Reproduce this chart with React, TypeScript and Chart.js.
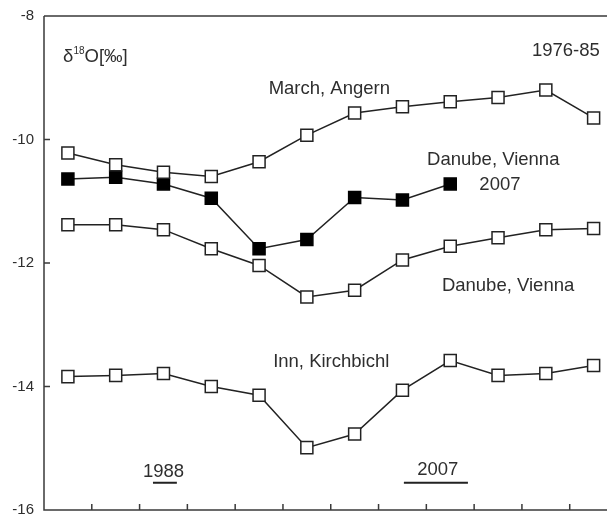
import React, { useEffect, useRef } from 'react';
import { Chart, registerables } from 'chart.js';

Chart.register(...registerables);

const MONTHS = ['Jan', 'Feb', 'Mar', 'Apr', 'May', 'Jun', 'Jul', 'Aug', 'Sep', 'Oct', 'Nov', 'Dec'];
const MARCH_ANGERN = [-10.22, -10.41, -10.53, -10.6, -10.36, -9.93, -9.57, -9.47, -9.39, -9.32, -9.2, -9.65];
const DANUBE_2007 = [-10.64, -10.61, -10.72, -10.95, -11.77, -11.62, -10.94, -10.98, -10.72];
const DANUBE_1976_85 = [-11.38, -11.38, -11.46, -11.77, -12.04, -12.55, -12.44, -11.95, -11.73, -11.59, -11.46, -11.44];
const INN_KIRCHBICHL = [-13.84, -13.82, -13.79, -14.0, -14.14, -14.99, -14.77, -14.06, -13.58, -13.82, -13.79, -13.66];
const Y_TICKS = [-16, -14, -12, -10, -8];
const Y_TICK_LABELS = ['-16', '-14', '-12', '-10', '-8'];

// text annotations in data coordinates
const LABELS = [
  { text: '1976-85', x: 12.13, y: -8.65, align: 'right' },
  { text: 'March, Angern', x: 6.47, y: -9.26, align: 'center' },
  { text: 'Danube, Vienna', x: 9.9, y: -10.41, align: 'center' },
  { text: '2007', x: 10.04, y: -10.81, align: 'center' },
  { text: 'Danube, Vienna', x: 10.21, y: -12.46, align: 'center' },
  { text: 'Inn, Kirchbichl', x: 6.51, y: -13.68, align: 'center' },
  { text: '1988', x: 3.0, y: -15.46, align: 'center' },
  { text: '2007', x: 8.74, y: -15.44, align: 'center' },
];
const PERIOD_BARS = [
  { from: 2.78, to: 3.28, y: -15.56 },
  { from: 8.03, to: 9.37, y: -15.56 },
];

const FONT = '"Liberation Sans", Arial, Helvetica, sans-serif';
const AXIS = '#3a3a3a';
const LINE = '#222222';
const TEXT = '#2e2e2e';

const toPoints = (arr: number[]) => arr.map((v, i) => ({ x: i + 1, y: v }));

const decor = {
  id: 'decor',
  afterDraw(chart: any) {
    const { ctx, chartArea, scales } = chart;
    const { left, right, top, bottom } = chartArea;
    const x = scales.x;
    const y = scales.y;
    ctx.save();
    ctx.strokeStyle = AXIS;
    ctx.lineWidth = 1.5;
    ctx.beginPath();
    ctx.moveTo(left, top);
    ctx.lineTo(right + 2, top);
    ctx.moveTo(left, top);
    ctx.lineTo(left, bottom);
    ctx.lineTo(right + 2, bottom);
    Y_TICKS.forEach((v) => {
      const py = y.getPixelForValue(v);
      ctx.moveTo(left, py);
      ctx.lineTo(left + 6, py);
    });
    for (let i = 1; i <= MONTHS.length; i++) {
      const px = x.getPixelForValue(i + 0.5);
      if (px > right) continue;
      ctx.moveTo(px, bottom);
      ctx.lineTo(px, bottom - 6);
    }
    ctx.stroke();

    ctx.fillStyle = TEXT;
    // y tick labels
    ctx.font = `15px ${FONT}`;
    ctx.textAlign = 'right';
    ctx.textBaseline = 'middle';
    Y_TICKS.forEach((v, i) => {
      ctx.fillText(Y_TICK_LABELS[i], left - 10, y.getPixelForValue(v));
    });

    ctx.textBaseline = 'alphabetic';
    ctx.font = `18.5px ${FONT}`;
    LABELS.forEach((l) => {
      ctx.textAlign = l.align;
      ctx.fillText(l.text, x.getPixelForValue(l.x), y.getPixelForValue(l.y));
    });
    ctx.strokeStyle = LINE;
    ctx.lineWidth = 2;
    ctx.beginPath();
    PERIOD_BARS.forEach((b) => {
      const py = y.getPixelForValue(b.y);
      ctx.moveTo(x.getPixelForValue(b.from), py);
      ctx.lineTo(x.getPixelForValue(b.to), py);
    });
    ctx.stroke();

    // y-axis title δ18O[‰]
    let tx = x.getPixelForValue(0.9);
    const ty = y.getPixelForValue(-8.74);
    ctx.textAlign = 'left';
    ctx.font = `18.5px ${FONT}`;
    ctx.fillText('δ', tx, ty);
    tx += ctx.measureText('δ').width;
    ctx.font = `10px ${FONT}`;
    ctx.fillText('18', tx, ty - 8);
    tx += ctx.measureText('18').width;
    ctx.font = `18.5px ${FONT}`;
    ctx.fillText('O[‰]', tx, ty);
    ctx.restore();
  },
};

const openStyle = {
  borderColor: LINE,
  borderWidth: 1.5,
  pointStyle: 'rect',
  pointRadius: 8.5,
  pointBorderWidth: 1.5,
  pointBorderColor: LINE,
  pointBackgroundColor: '#ffffff',
  tension: 0,
};

export default function App() {
  const ref = useRef<HTMLCanvasElement | null>(null);
  useEffect(() => {
    if (!ref.current) return;
    const chart = new Chart(ref.current, {
      type: 'line',
      data: {
        datasets: [
          { label: 'Inn, Kirchbichl', data: toPoints(INN_KIRCHBICHL), ...openStyle },
          { label: 'Danube, Vienna 1976-85', data: toPoints(DANUBE_1976_85), ...openStyle },
          { label: 'March, Angern', data: toPoints(MARCH_ANGERN), ...openStyle },
          {
            label: 'Danube, Vienna 2007',
            data: toPoints(DANUBE_2007),
            ...openStyle,
            pointBackgroundColor: '#000000',
            pointBorderColor: '#000000',
          },
        ] as any,
      },
      options: {
        animation: false,
        responsive: false,
        devicePixelRatio: 1,
        layout: { padding: { top: 16, bottom: 5, left: 44, right: 0 }, autoPadding: false } as any,
        plugins: { legend: { display: false }, tooltip: { enabled: false } },
        scales: {
          x: {
            type: 'linear',
            display: false,
            min: 0.5,
            max: 12.28,
          },
          y: {
            type: 'linear',
            display: false,
            min: -16,
            max: -8,
          },
        },
      } as any,
      plugins: [decor],
    });
    return () => chart.destroy();
  }, []);
  return (
    <div style={{ position: 'fixed', left: 0, top: 0, width: 607, height: 515, background: '#fff' }}>
      <canvas ref={ref} width={607} height={515} style={{ display: 'block' }} />
    </div>
  );
}
